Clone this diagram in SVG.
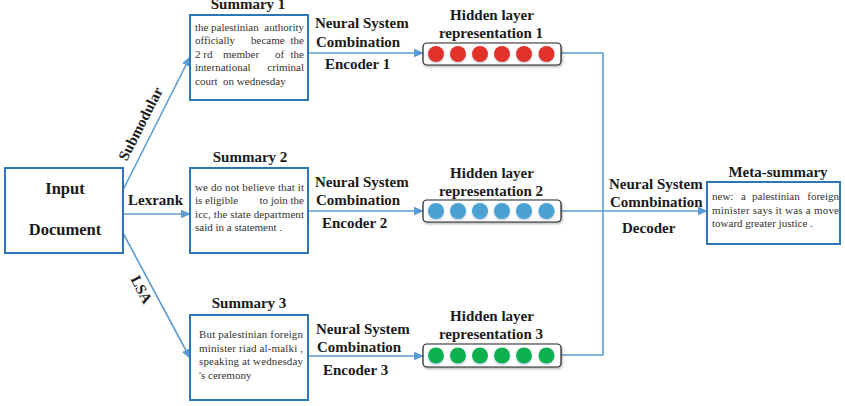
<svg xmlns="http://www.w3.org/2000/svg" width="845" height="406" viewBox="0 0 845 406">
  <style>
    .box { fill: #ffffff; stroke: #2e75b6; stroke-width: 2; }
    .layer { fill: #ffffff; stroke: #222222; stroke-width: 1.2; }
    .link { fill: none; stroke: #5b9bd5; stroke-width: 1.6; }
    text { font-family: 'Liberation Serif', 'Times New Roman', 'DejaVu Serif', serif; }
    .title { font-weight: bold; font-size: 15px; fill: #1a1a1a; }
    .big { font-size: 16.5px; }
    .body { font-size: 11px; fill: #333333; }
    .mid { text-anchor: middle; }
    .end { text-anchor: end; }
    .red { fill: #e2332a; }
    .blue { fill: #4aa2d3; }
    .green { fill: #0bb14d; }
  </style>
  <defs>
    <marker id="arrow" markerUnits="userSpaceOnUse" markerWidth="10" markerHeight="10" viewBox="0 0 10 10" refX="9" refY="5" orient="auto">
      <path d="M0,0.8 L10,5 L0,9.2 Z" fill="#5b9bd5"/>
    </marker>
    <filter id="shadow" x="-10%" y="-30%" width="120%" height="170%">
      <feDropShadow dx="1" dy="1.5" stdDeviation="1" flood-color="#000000" flood-opacity="0.3"/>
    </filter>
    <filter id="glow" x="-40%" y="-40%" width="180%" height="180%">
      <feDropShadow dx="0" dy="1.2" stdDeviation="0.8" flood-color="#6a8fc0" flood-opacity="0.45"/>
    </filter>
  </defs>

  <!-- connectors -->
  <g id="connectors">
    <line class="link" x1="123" y1="190" x2="190" y2="57" marker-end="url(#arrow)"/>
    <line class="link" x1="123" y1="214" x2="190" y2="214" marker-end="url(#arrow)"/>
    <line class="link" x1="123" y1="233" x2="190" y2="358" marker-end="url(#arrow)"/>
    <line class="link" x1="308" y1="53" x2="423" y2="53" marker-end="url(#arrow)"/>
    <line class="link" x1="308" y1="211" x2="423" y2="211" marker-end="url(#arrow)"/>
    <line class="link" x1="308" y1="356" x2="423" y2="356" marker-end="url(#arrow)"/>
    <polyline class="link" points="561,53 603,53 603,355 561,355"/>
    <line class="link" x1="561" y1="211" x2="707" y2="211" marker-end="url(#arrow)"/>
    <text class="title" transform="translate(145,126) rotate(-63)" text-anchor="middle">Submodular</text>
    <text class="title" x="128" y="205">Lexrank</text>
    <text class="title" transform="translate(137,292) rotate(62)" text-anchor="middle">LSA</text>
  </g>

  <!-- input -->
  <g id="input-document">
    <rect class="box" x="5" y="168" width="118" height="85"/>
    <text class="title big mid" x="65" y="194">Input</text>
    <text class="title big mid" x="65" y="235">Document</text>
  </g>

  <!-- extractive summaries -->
  <g id="summary-1">
    <text class="title mid" x="248" y="9">Summary 1</text>
    <rect class="box" x="190" y="15" width="118" height="85"/>
    <text class="body"><tspan x="195" y="31">the</tspan><tspan x="211" y="31">palestinian</tspan></text>
    <text class="body end" x="304" y="31">authority</text>
    <text class="body" x="195" y="44.4">officially</text>
    <text class="body"><tspan x="251" y="44.4">became</tspan></text>
    <text class="body end" x="304" y="44.4">the</text>
    <text class="body"><tspan x="195" y="57.8">2 rd</tspan><tspan x="223" y="57.8">member</tspan><tspan x="275" y="57.8">of</tspan></text>
    <text class="body end" x="304" y="57.8">the</text>
    <text class="body" x="195" y="71.2">international</text>
    <text class="body end" x="304" y="71.2">criminal</text>
    <text class="body" x="195" y="84.6" xml:space="preserve">court  on wednesday</text>
  </g>

  <g id="summary-2">
    <text class="title mid" x="250" y="162">Summary 2</text>
    <rect class="box" x="190" y="168" width="118" height="85"/>
    <text class="body" x="195" y="190.5" textLength="109" lengthAdjust="spacing">we do not believe that it</text>
    <text class="body" x="195" y="204">is eligible</text>
    <text class="body end" x="304" y="204">to join the</text>
    <text class="body" x="195" y="217.5" textLength="109" lengthAdjust="spacing">icc, the state department</text>
    <text class="body" x="195" y="231">said in a statement .</text>
  </g>

  <g id="summary-3">
    <text class="title mid" x="249" y="308">Summary 3</text>
    <rect class="box" x="190" y="315" width="118" height="85"/>
    <text class="body" x="199" y="337.5" textLength="104" lengthAdjust="spacing">But palestinian foreign</text>
    <text class="body" x="199" y="351.5" textLength="104" lengthAdjust="spacing">minister riad al-malki ,</text>
    <text class="body" x="199" y="365" textLength="104" lengthAdjust="spacing">speaking at wednesday</text>
    <text class="body" x="199" y="378.5">'s ceremony</text>
  </g>

  <!-- encoder labels -->
  <g id="encoder-1">
    <text class="title" x="315" y="28">Neural System</text>
    <text class="title" x="316" y="47">Combination</text>
    <text class="title" x="325" y="69">Encoder 1</text>
  </g>
  <g id="encoder-2">
    <text class="title" x="315" y="187">Neural System</text>
    <text class="title" x="316" y="205">Combination</text>
    <text class="title" x="322" y="228">Encoder 2</text>
  </g>
  <g id="encoder-3">
    <text class="title" x="316" y="334">Neural System</text>
    <text class="title" x="317" y="352">Combination</text>
    <text class="title" x="323" y="375">Encoder 3</text>
  </g>

  <!-- hidden layer representations -->
  <g id="hidden-1">
    <text class="title mid" x="492" y="20">Hidden layer</text>
    <text class="title mid" x="491" y="38">representation 1</text>
    <rect class="layer" x="423" y="43" width="138" height="22" rx="4" filter="url(#shadow)"/>
    <g class="red" filter="url(#glow)">
      <circle cx="436" cy="54" r="8"/><circle cx="458" cy="54" r="8"/><circle cx="480" cy="54" r="8"/>
      <circle cx="502" cy="54" r="8"/><circle cx="524" cy="54" r="8"/><circle cx="546.5" cy="54" r="8"/>
    </g>
  </g>

  <g id="hidden-2">
    <text class="title mid" x="492" y="178">Hidden layer</text>
    <text class="title mid" x="491" y="196">representation 2</text>
    <rect class="layer" x="423" y="200" width="138" height="22" rx="4" filter="url(#shadow)"/>
    <g class="blue" filter="url(#glow)">
      <circle cx="436" cy="211" r="8"/><circle cx="458" cy="211" r="8"/><circle cx="480" cy="211" r="8"/>
      <circle cx="502" cy="211" r="8"/><circle cx="524" cy="211" r="8"/><circle cx="546.5" cy="211" r="8"/>
    </g>
  </g>

  <g id="hidden-3">
    <text class="title mid" x="492" y="321">Hidden layer</text>
    <text class="title mid" x="491" y="339">representation 3</text>
    <rect class="layer" x="423" y="344" width="138" height="23" rx="4" filter="url(#shadow)"/>
    <g class="green" filter="url(#glow)">
      <circle cx="436" cy="355.5" r="8"/><circle cx="458" cy="355.5" r="8"/><circle cx="480" cy="355.5" r="8"/>
      <circle cx="502" cy="355.5" r="8"/><circle cx="524" cy="355.5" r="8"/><circle cx="546.5" cy="355.5" r="8"/>
    </g>
  </g>

  <!-- decoder -->
  <g id="decoder">
    <text class="title" x="609" y="189">Neural System</text>
    <text class="title" x="610" y="207">Comnbination</text>
    <text class="title" x="622" y="233">Decoder</text>
  </g>

  <g id="meta-summary">
    <text class="title mid" x="778" y="177">Meta-summary</text>
    <rect class="box" x="707" y="182" width="133" height="62"/>
    <text class="body"><tspan x="712" y="200">new:</tspan><tspan x="741" y="200">a</tspan><tspan x="752" y="200">palestinian</tspan></text>
    <text class="body end" x="839" y="200">foreign</text>
    <text class="body" x="712" y="213.5" textLength="127" lengthAdjust="spacing">minister says it was a move</text>
    <text class="body" x="712" y="227">toward greater justice .</text>
  </g>
</svg>
